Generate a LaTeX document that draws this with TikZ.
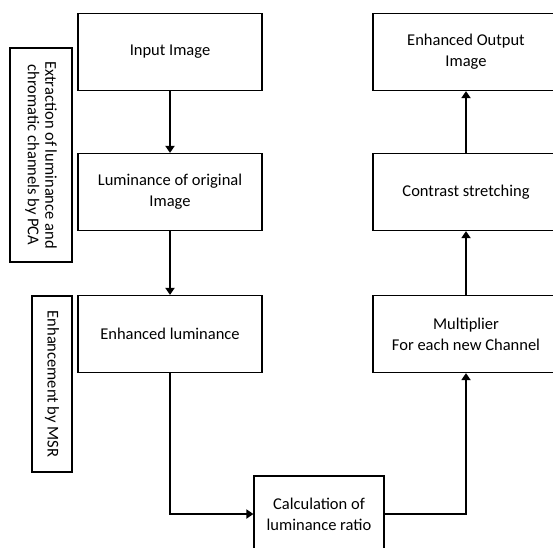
\documentclass[tikz,border=0pt]{standalone}
\usepackage{fontspec}
\setmainfont{Carlito}
\usetikzlibrary{arrows.meta}
\begin{document}
\begin{tikzpicture}[x=1pt,y=-1pt,
  box/.style={draw,line width=1.2pt,align=center,inner sep=0pt,
    font=\fontsize{16.5}{21}\selectfont},
  side/.style={draw,line width=1.2pt,align=center,inner sep=0pt,rotate=-90,
    font=\fontsize{16.5}{17.5}\selectfont},
  arr/.style={line width=1.8pt,-{Triangle[length=7pt,width=9pt]}}]
\useasboundingbox (0,0) rectangle (553,547);
\clip (0,0) rectangle (553,547);
\node[box,minimum width=184pt,minimum height=77pt] (in) at (170,52) {Input Image};
\node[box,minimum width=184pt,minimum height=77pt] (lum) at (170,192) {Luminance of original\\Image};
\node[box,minimum width=184pt,minimum height=77pt] (enh) at (170,334) {Enhanced luminance};
\node[side,minimum width=214pt,minimum height=62pt] (s1) at (41,155) {Extraction of luminance and\\chromatic channels by PCA};
\node[side,minimum width=176pt,minimum height=40pt] (s2) at (52,384) {Enhancement by MSR};
\node[box,minimum width=186pt,minimum height=77pt] (out) at (466,52) {Enhanced Output\\Image};
\node[box,minimum width=186pt,minimum height=77pt] (cs) at (466,192) {Contrast stretching};
\node[box,minimum width=186pt,minimum height=77pt] (mul) at (466,334) {Multiplier\\For each new Channel};
\node[box,minimum width=130pt,minimum height=76pt] (calc) at (319,514) {Calculation of\\luminance ratio};
\draw[arr] (in) -- (lum);
\draw[arr] (lum) -- (enh);
\draw[arr] (enh.south) |- (calc.west);
\draw[arr] (calc.east) -| (mul.south);
\draw[arr] (mul) -- (cs);
\draw[arr] (cs) -- (out);
\end{tikzpicture}
\end{document}
